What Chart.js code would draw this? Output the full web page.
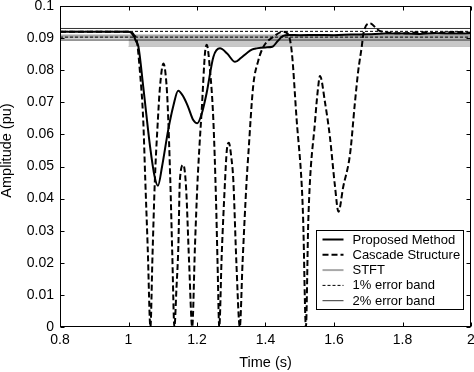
<!DOCTYPE html>
<html><head><meta charset="utf-8">
<script src="https://cdn.jsdelivr.net/npm/chart.js@4.4.1/dist/chart.umd.min.js"></script>
<style>html,body{margin:0;padding:0;background:#fff;}canvas{display:block;}</style>
</head><body>
<canvas id="c" width="474" height="372"></canvas>
<script>
const xTicks = [0.8, 1, 1.2, 1.4, 1.6, 1.8, 2];
const yTicks = [0, 0.01, 0.02, 0.03, 0.04, 0.05, 0.06, 0.07, 0.08, 0.09, 0.1];
const seriesLabels = ['Proposed Method', 'Cascade Structure', 'STFT', '1% error band', '2% error band'];
const xTitle = 'Time (s)';
const yTitle = 'Amplitude (pu)';

const proposedTime = [0.8, 1.0, 1.008, 1.016, 1.022, 1.029, 1.043, 1.063, 1.076, 1.086, 1.098, 1.116, 1.131, 1.145, 1.160, 1.174, 1.189, 1.201, 1.214, 1.228, 1.248, 1.267, 1.288, 1.311, 1.328, 1.345, 1.36, 1.374, 1.40, 1.42, 1.435, 1.45, 1.47, 1.5, 1.55, 1.6, 1.65, 1.7, 1.75, 1.8, 1.85, 1.9, 1.95, 2.0];
const proposedAmp = [0.0920, 0.0920, 0.0917, 0.0905, 0.0890, 0.0873, 0.0749, 0.0562, 0.0470, 0.0440, 0.0500, 0.0614, 0.0689, 0.0736, 0.0718, 0.0686, 0.0645, 0.0635, 0.0665, 0.0728, 0.0842, 0.0868, 0.0852, 0.0826, 0.0838, 0.0853, 0.0864, 0.0868, 0.0871, 0.0873, 0.0890, 0.0906, 0.0910, 0.0909, 0.0910, 0.0909, 0.0911, 0.0912, 0.0914, 0.0914, 0.0913, 0.0915, 0.0914, 0.0915];

const cascadeTime = [0.8, 1.0, 1.010, 1.017, 1.024, 1.033, 1.043, 1.049, 1.056, 1.064, 1.070, 1.077, 1.085, 1.092, 1.102, 1.108, 1.114, 1.122, 1.128, 1.134, 1.140, 1.1455, 1.150, 1.160, 1.168, 1.177, 1.186, 1.194, 1.201, 1.207, 1.214, 1.2234, 1.2283, 1.238, 1.2477, 1.2555, 1.260, 1.265, 1.272, 1.282, 1.287, 1.293, 1.300, 1.306, 1.315, 1.325, 1.333, 1.345, 1.350, 1.364, 1.379, 1.394, 1.423, 1.452, 1.467, 1.477, 1.491, 1.506, 1.510, 1.518, 1.525, 1.545, 1.554, 1.559, 1.574, 1.588, 1.603, 1.613, 1.627, 1.647, 1.661, 1.671, 1.681, 1.686, 1.705, 1.729, 1.75, 1.8, 1.85, 1.9, 1.95, 2.0];
const cascadeAmp = [0.0920, 0.0920, 0.0917, 0.0908, 0.0894, 0.0800, 0.0645, 0.0458, 0.0250, 0.0, 0.0220, 0.0458, 0.0630, 0.0749, 0.0821, 0.0790, 0.0700, 0.0458, 0.0220, 0.0, 0.0120, 0.0250, 0.0458, 0.0505, 0.0436, 0.0200, 0.0, 0.0250, 0.0440, 0.0560, 0.0680, 0.0854, 0.0879, 0.0800, 0.0645, 0.0396, 0.0200, 0.0, 0.0220, 0.0458, 0.0550, 0.0574, 0.0530, 0.0458, 0.0200, 0.0, 0.0200, 0.0458, 0.0540, 0.0750, 0.0830, 0.0873, 0.0904, 0.0920, 0.0910, 0.0854, 0.0645, 0.0437, 0.0333, 0.0, 0.0333, 0.0645, 0.0750, 0.0782, 0.0698, 0.0593, 0.0437, 0.0359, 0.0437, 0.0540, 0.0698, 0.0800, 0.0873, 0.0915, 0.0946, 0.0925, 0.0918, 0.0915, 0.0918, 0.0916, 0.0919, 0.0917];

const stftTime = [0.8, 2.0];
const stftAmp = [0.0905, 0.0905];
const stftRippleTime = [1.0, 2.0];
const stftRippleLow = [0.0874, 0.0874];
const bandTime = [0.8, 2.0];
const band1Upper = 0.0921, band1Lower = 0.0903;
const band2Upper = 0.0930, band2Lower = 0.0894;

const pts = (t, v) => t.map((x, i) => ({x, y: v[i]}));
const flat = (t, val) => t.map(x => ({x, y: val}));

const FONT = "'Liberation Sans', Arial, sans-serif";

const datasets = [
  {label: seriesLabels[0], data: pts(proposedTime, proposedAmp), borderColor: '#000', borderWidth: 2, cubicInterpolationMode: 'monotone'},
  {label: seriesLabels[1], data: pts(cascadeTime, cascadeAmp), borderColor: '#000', borderWidth: 2, borderDash: [6, 3], cubicInterpolationMode: 'monotone'},
  {label: seriesLabels[3], data: flat(bandTime, band1Upper), borderColor: '#000', borderWidth: 1, borderDash: [3, 2]},
  {label: seriesLabels[3] + ' ', data: flat(bandTime, band1Lower), borderColor: '#000', borderWidth: 1, borderDash: [3, 2]},
  {label: seriesLabels[4], data: flat(bandTime, band2Upper), borderColor: '#333', borderWidth: 1},
  {label: seriesLabels[4] + ' ', data: flat(bandTime, band2Lower), borderColor: '#333', borderWidth: 1},
  {label: seriesLabels[2], data: pts(stftTime, stftAmp), borderColor: '#a8a8a8', borderWidth: 4},
  {label: seriesLabels[2] + ' ripple', data: pts(stftRippleTime, stftRippleLow), borderColor: '#c4c4c4', borderWidth: 1, fill: {value: stftAmp[0]}, backgroundColor: '#c8c8c8'}
];

const frame = {
  id: 'frame',
  afterDraw(chart) {
    const {ctx, chartArea: a, scales} = chart;
    ctx.save();
    ctx.strokeStyle = '#000';
    ctx.lineWidth = 1;
    const L = Math.round(a.left) + 0.5, R = Math.round(a.right) - 0.5, T = Math.round(a.top) + 0.5, B = Math.round(a.bottom) - 0.5;
    ctx.strokeRect(L, T, R - L, B - T);
    const tl = 4;
    ctx.beginPath();
    xTicks.forEach(v => {
      const x = Math.round(scales.x.getPixelForValue(v)) + 0.5;
      ctx.moveTo(x, B); ctx.lineTo(x, B - tl);
      ctx.moveTo(x, T); ctx.lineTo(x, T + tl);
    });
    yTicks.forEach(v => {
      const y = Math.round(scales.y.getPixelForValue(v)) + 0.5;
      ctx.moveTo(L, y); ctx.lineTo(L + tl, y);
      ctx.moveTo(R, y); ctx.lineTo(R - tl, y);
    });
    ctx.stroke();

    // y title
    ctx.fillStyle = '#000';
    ctx.font = '14.5px ' + FONT;
    ctx.textAlign = 'center';
    ctx.textBaseline = 'middle';
    ctx.translate(7.3, 150.5);
    ctx.rotate(-Math.PI / 2);
    ctx.fillText(yTitle, 0, 0);
    ctx.restore();

    // legend
    const items = [0, 1, 6, 2, 4].map(i => chart.data.datasets[i]);
    const w = 147, h = 79;
    const bx = Math.round(a.right - 8 - w) + 0.5, by = Math.round(a.bottom - 18 - h) + 0.5;
    ctx.save();
    ctx.fillStyle = '#fff';
    ctx.fillRect(bx, by, w, h);
    ctx.strokeStyle = '#000';
    ctx.lineWidth = 1;
    ctx.strokeRect(bx, by, w, h);
    ctx.font = '13px ' + FONT;
    ctx.textBaseline = 'middle';
    ctx.textAlign = 'left';
    items.forEach((ds, k) => {
      const y = by + 9 + k * 15.3;
      ctx.beginPath();
      ctx.strokeStyle = ds.borderColor;
      ctx.lineWidth = Math.min(ds.borderWidth, 2);
      ctx.setLineDash(ds.borderDash || []);
      ctx.moveTo(bx + 6, y); ctx.lineTo(bx + 27, y);
      ctx.stroke();
      ctx.setLineDash([]);
      ctx.fillStyle = '#000';
      ctx.fillText(ds.label, bx + 36, y + 0.5);
    });
    ctx.restore();
  }
};

new Chart(document.getElementById('c'), {
  type: 'line',
  data: {datasets},
  plugins: [frame],
  options: {
    responsive: false,
    animation: false,
    devicePixelRatio: 1,
    layout: {padding: {top: 6, right: 3, left: 0, bottom: 0}},
    plugins: {legend: {display: false}, tooltip: {enabled: false}},
    elements: {point: {radius: 0}, line: {tension: 0}},
    scales: {
      x: {
        type: 'linear', min: 0.8, max: 2,
        afterBuildTicks: s => { s.ticks = xTicks.map(v => ({value: v})); },
        afterFit: s => { s.height = 45; s.paddingLeft = 0; s.paddingRight = 0; },
        grid: {display: false, drawTicks: false},
        border: {display: false},
        ticks: {color: '#000', font: {family: FONT, size: 14}, padding: 5, maxRotation: 0, autoSkip: false,
          callback: v => String(+v.toFixed(1))},
        title: {display: true, text: xTitle, color: '#000', font: {family: FONT, size: 14.5}, padding: {top: 0, bottom: 0}}
      },
      y: {
        type: 'linear', min: 0, max: 0.1,
        afterBuildTicks: s => { s.ticks = yTicks.map(v => ({value: v})); },
        afterFit: s => { s.width = 60; s.paddingTop = 0; s.paddingBottom = 0; },
        grid: {display: false, drawTicks: false},
        border: {display: false},
        ticks: {color: '#000', font: {family: FONT, size: 14}, padding: 6, autoSkip: false,
          callback: v => String(+v.toFixed(2))}
      }
    }
  }
});
</script>
</body></html>
